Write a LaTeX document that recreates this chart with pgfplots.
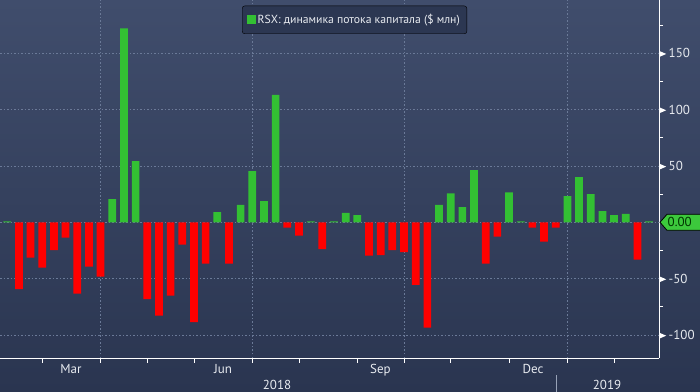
\documentclass[border=0pt]{standalone}
\usepackage{pgfplots}
\pgfplotsset{compat=1.18}
\usepackage{pgfplotstable}
\usepackage{fontspec}
\setmainfont{PT Sans}
\definecolor{bgtop}{HTML}{404D6C}
\definecolor{bgbot}{HTML}{2A3550}
\definecolor{gbar}{HTML}{33C033}
\definecolor{rbar}{HTML}{FF0000}
\definecolor{gridc}{HTML}{6B7A98}
\definecolor{txt}{HTML}{E8EBF0}
\definecolor{legfill}{HTML}{2C3752}
\definecolor{callg}{HTML}{3CC83C}

\pgfplotstableread{
x y
0 0.8
9 20.6
10 172.2
11 54.4
18 9.1
20 15.4
21 45.5
22 18.9
23 113.0
26 0.8
28 0.8
29 8.3
30 6.5
37 15.4
38 25.7
39 13.6
40 46.4
43 26.6
44 0.8
48 23.3
49 40.2
50 25.0
51 10.0
52 6.5
53 7.4
55 0.8
}\pos

\pgfplotstableread{
x y
1 -59.2
2 -31.4
3 -40.3
4 -24.6
5 -13.6
6 -63.3
7 -39.4
8 -48.2
12 -68.1
13 -82.9
14 -65.1
15 -19.8
16 -88.5
17 -36.7
19 -36.7
24 -4.7
25 -11.8
27 -23.7
31 -29.6
32 -29.0
33 -24.6
34 -26.4
35 -55.6
36 -93.5
41 -36.7
42 -12.7
45 -4.7
46 -17.2
47 -4.7
54 -33.2
}\negt

\begin{document}
\begin{tikzpicture}
\shade[top color=bgtop,bottom color=bgbot] (0bp,0bp) rectangle (700bp,392bp);
\useasboundingbox (0bp,0bp) rectangle (700bp,392bp);
\begin{axis}[
  at={(0bp,34bp)}, anchor=south west,
  scale only axis, width=659bp, height=358bp,
  xmin=-0.62, xmax=55.85, ymin=-120.4, ymax=197.3,
  clip=false,
  axis x line=bottom, axis y line=right,
  axis line style={-, white, line width=1bp},
  tick align=outside,
  major tick length=4.5bp, minor tick length=4bp,
  tick style={white, line width=0.8bp},
  xtick={8,21,34,48}, xticklabels={},
  xmajorgrids,
  extra x ticks={3,12,16,25,30,38,43,52},
  extra x tick labels={},
  extra x tick style={grid=none},
  ytick={-100,-50,50,100,150},
  minor ytick={-75,-25,25,75,125,175},
  ymajorgrids,
  extra y ticks={0}, extra y tick labels={},
  extra y tick style={grid=major},
  grid style={gridc, dash pattern=on 1.5bp off 2bp, line width=0.6bp},
  /pgf/number format/assume math mode=true,
  yticklabel={\tikz[baseline=-0.6ex]\fill[white] (0bp,-3bp)--(7bp,0bp)--(0bp,3bp)--cycle;\hspace{2.5bp}\pgfmathprintnumber{\tick}},
  yticklabel style={anchor=west, inner sep=0pt, xshift=-4.5bp, text=txt, font=\fontsize{13bp}{15bp}\selectfont},
  legend style={at={(0.538,0.984)}, anchor=north, fill=legfill, draw=black,
    rounded corners=2.5bp, text=txt, font=\fontsize{11.7bp}{13bp}\selectfont,
    inner xsep=5bp, inner ysep=6.5bp,
    /tikz/every odd column/.append style={column sep=0bp}},
]
\addplot[ybar, bar width=0.66, bar shift=0pt, fill=gbar, draw=none,
  legend image code/.code={\fill[gbar, sharp corners] (1bp,-4.5bp) rectangle (9.5bp,4.5bp);}]
  table[x=x,y=y]{\pos};
\addlegendentry{RSX: динамика потока капитала (\$ млн)}
\addplot[ybar, bar width=0.66, bar shift=0pt, fill=rbar, draw=none, forget plot]
  table[x=x,y=y]{\negt};
\end{axis}
\begin{scope}[font=\fontsize{13bp}{15bp}\selectfont, text=txt]
\node[anchor=base] at (71bp,18.7bp) {Mar};
\node[anchor=base] at (223bp,18.7bp) {Jun};
\node[anchor=base] at (380.5bp,18.7bp) {Sep};
\node[anchor=base] at (533bp,18.7bp) {Dec};
\node[anchor=base] at (277bp,3bp) {2018};
\node[anchor=base] at (607bp,3bp) {2019};
\end{scope}
\draw[color=gridc!70!white, line width=0.8bp] (556.7bp,0bp) -- (556.7bp,17bp);
\filldraw[fill=callg, draw=black, line width=0.8bp]
  (660bp,169.7bp) -- (667bp,177.7bp) -- (702bp,177.7bp) -- (702bp,161.7bp) -- (667bp,161.7bp) -- cycle;
\node[anchor=west, inner sep=0pt, text={black!80!green}, font=\fontsize{13bp}{15bp}\selectfont] at (667.5bp,169.7bp) {0.00};
\end{tikzpicture}
\end{document}
